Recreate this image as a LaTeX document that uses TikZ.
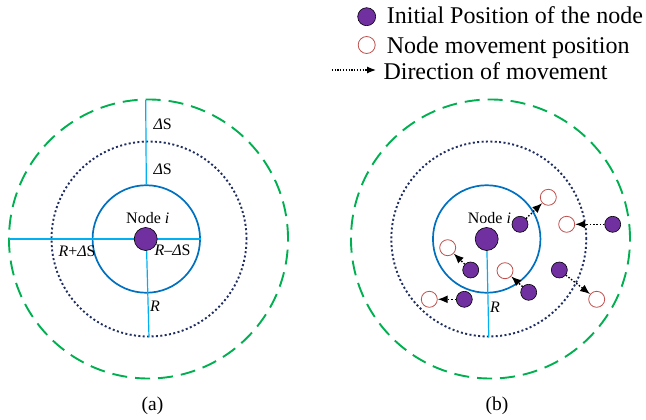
\documentclass[tikz,border=0pt]{standalone}
\usepackage{fontspec}
\setmainfont{Liberation Serif}
\usetikzlibrary{arrows.meta}
\definecolor{cgreen}{RGB}{0,176,80}
\definecolor{cnavy}{RGB}{31,45,96}
\definecolor{cblue}{RGB}{0,112,192}
\definecolor{clight}{RGB}{0,176,240}
\definecolor{cpurple}{RGB}{112,48,160}
\definecolor{cred}{RGB}{192,80,77}
\begin{document}
\begin{tikzpicture}[x=1pt,y=-1pt,
 outer/.style={circle,draw=cgreen,line width=1.9pt,dash pattern=on 15pt off 8pt,minimum size=279pt,inner sep=0pt},
 mid/.style={circle,draw=cnavy,line width=1.9pt,dash pattern=on 2pt off 2.4pt,minimum size=195pt,inner sep=0pt},
 inner/.style={circle,draw=cblue,line width=1.7pt,minimum size=107.5pt,inner sep=0pt},
 bignode/.style={circle,fill=cpurple,draw=black,line width=0.6pt,minimum size=23pt,inner sep=0pt},
 pnode/.style={circle,fill=cpurple,draw=black,line width=0.6pt,minimum size=16pt,inner sep=0pt},
 hnode/.style={circle,fill=white,draw=cred,line width=0.8pt,minimum size=16pt,inner sep=0pt},
 rline/.style={draw=clight,line width=1.2pt},
 move/.style={line width=1.4pt,dash pattern=on 1.5pt off 1.8pt,-{Latex[length=10pt,width=8pt]}},
 lbl/.style={font=\fontsize{16}{16}\selectfont,inner sep=0pt,anchor=base west},
 captxt/.style={font=\fontsize{19.5}{19.5}\selectfont,inner sep=0pt,anchor=base},
 leg/.style={font=\fontsize{24}{24}\selectfont,inner sep=0pt,anchor=base west}]
\useasboundingbox (0,0) rectangle (646,420);

% ---------- (a) ----------
\node[outer] (ga) at (148.5,239) {};
\node[mid] (ma) at (149,239) {};
\node[inner] (ba) at (146.3,239) {};
\coordinate (gatop) at (145.7,100);
\coordinate (gaw) at (9,239);
\draw[rline] (gatop) -- (ba.north);
\draw[rline] (gaw) -- (ba.east);
\draw[rline] (ba.center) -- (ma.south);
\node[bignode] (na) at (145.7,239) {};
\node[lbl] (la1) at (126,223.3) {Node \textit{i}};
\node[lbl] (la2) at (154.3,255) {\textit{R}–\textit{Δ}S};
\node[lbl] (la3) at (58.3,256.7) {\textit{R}+\textit{Δ}S};
\node[lbl] (la4) at (153.3,130) {\textit{Δ}S};
\node[lbl] (la5) at (153.3,175) {\textit{Δ}S};
\node[lbl] (la6) at (150,311.7) {\textit{R}};
\node[captxt] (capa) at (152.5,410) {(a)};

% ---------- (b) ----------
\node[outer] (gb) at (490.5,239) {};
\node[mid] (mb) at (488.8,239) {};
\node[inner] (bb) at (486.7,239) {};
\draw[rline] (bb.center) -- (mb.south);
\node[bignode] (nb) at (486.7,239) {};
\node[lbl] (lb1) at (467.7,223.3) {Node \textit{i}};
\node[lbl] (lb2) at (490,312.7) {\textit{R}};
\node[captxt] (capb) at (497,410) {(b)};

\node[pnode] (pa) at (520,224.3) {};
\node[hnode] (ha) at (548.3,197.3) {};
\node[pnode] (pb) at (612.7,224.3) {};
\node[hnode] (hb) at (566.7,224.3) {};
\node[pnode] (pc) at (470.7,270) {};
\node[hnode] (hc) at (447.7,247.7) {};
\node[pnode] (pd) at (528.7,292.3) {};
\node[hnode] (hd) at (505,270.7) {};
\node[pnode] (pe) at (559.3,270) {};
\node[hnode] (he) at (596.7,299.3) {};
\node[pnode] (pf) at (464.3,299.3) {};
\node[hnode] (hf) at (429.3,299.3) {};
\draw[move] (pa) -- (ha);
\draw[move] (pb) -- (hb);
\draw[move] (pc) -- (hc);
\draw[move] (pd) -- (hd);
\draw[move] (pe) -- (he);
\draw[move] (pf) -- (hf);

% ---------- legend ----------
\node[circle,fill=cpurple,draw=black,line width=0.6pt,minimum size=18pt,inner sep=0pt] (lg1) at (366.7,16.7) {};
\node[leg] (lt1) at (386.7,24) {Initial Position of the node};
\node[circle,fill=white,draw=cred,line width=0.8pt,minimum size=17pt,inner sep=0pt] (lg2) at (366.7,45) {};
\node[leg] (lt2) at (386.7,53.3) {Node movement position};
\coordinate (lg3a) at (331.7,70);
\coordinate (lg3b) at (376,70);
\draw[line width=1.2pt,dash pattern=on 1.2pt off 1.6pt,-{Latex[length=9pt,width=7pt]}] (lg3a) -- (lg3b);
\node[leg] (lt3) at (383.3,80) {Direction of movement};
\end{tikzpicture}
\end{document}
